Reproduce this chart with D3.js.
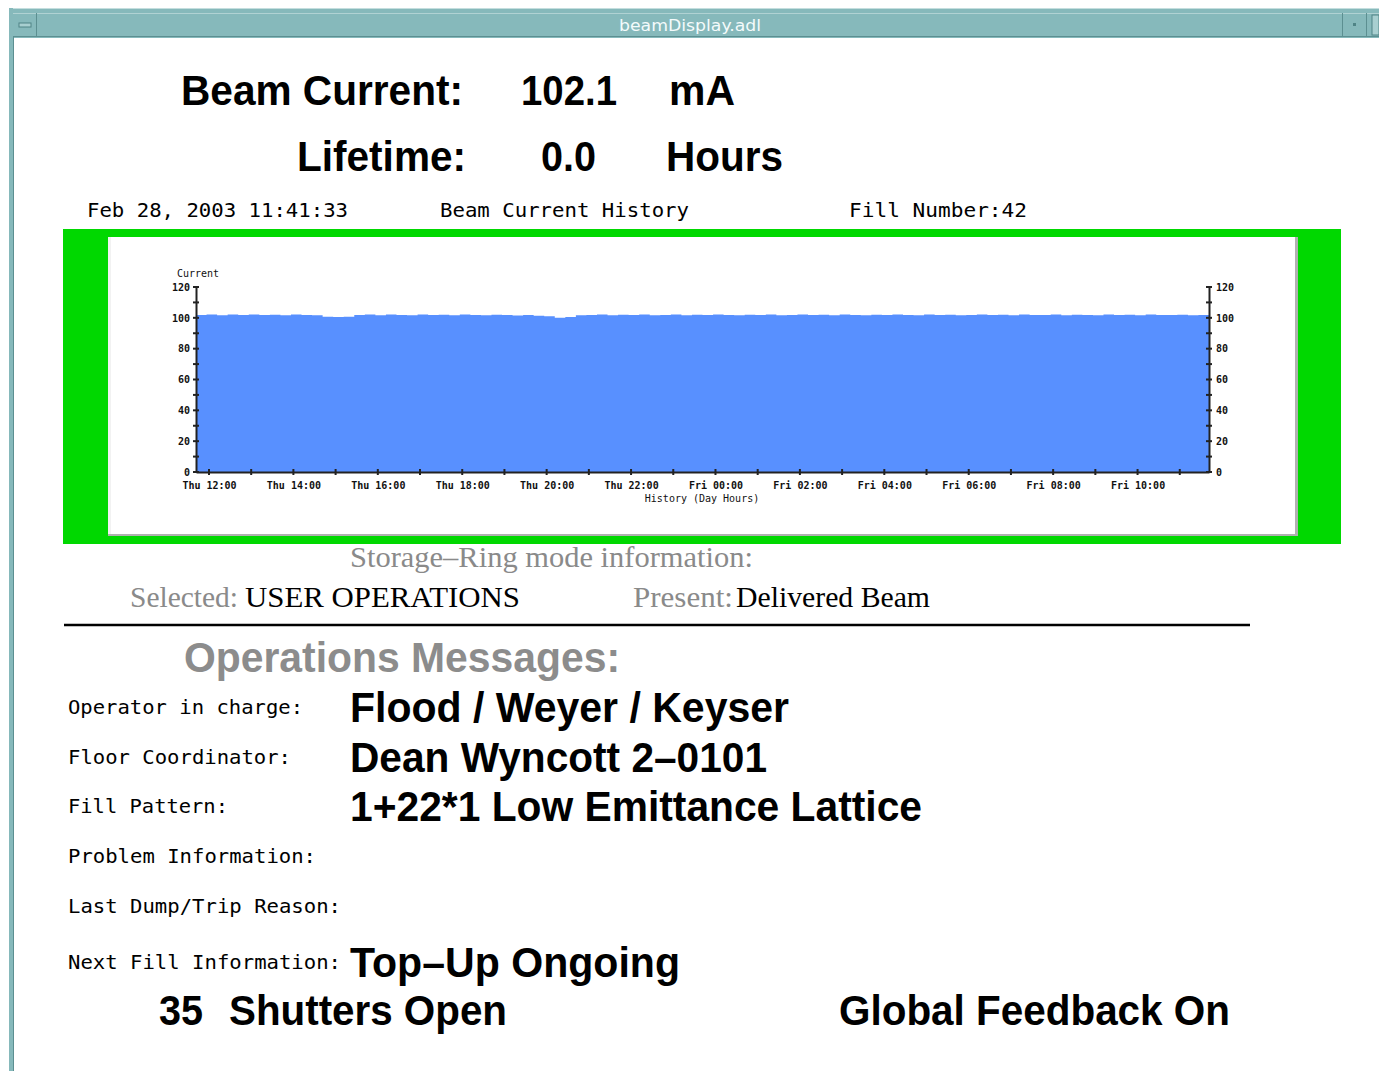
<!DOCTYPE html>
<html>
<head>
<meta charset="utf-8">
<script src="https://cdn.jsdelivr.net/npm/d3@7"></script>
<style>
  html, body { margin: 0; padding: 0; background: #ffffff; }
  svg { display: block; }
  text { white-space: pre; }
</style>
</head>
<body>
<div id="chart"></div>
<script>
// ---------------- DATA ----------------
const windowTitle = "beamDisplay.adl";
const beamCurrent = "102.1";
const beamUnit = "mA";
const lifetime = "0.0";
const lifetimeUnit = "Hours";
const timestampText = "Feb 28, 2003 11:41:33";
const chartTitle = "Beam Current History";
const fillNumberText = "Fill Number:42";

// history window: 24 h ending at the timestamp, one sample every 15 min
const historyStart = new Date(2003, 1, 27, 11, 41, 33);
const historyEnd = new Date(2003, 1, 28, 11, 41, 33);
const sampleMinutes = 15;
const currentValues = [
  101.9, 102.2, 101.7, 102.1, 101.8, 102.2, 101.9, 102.0, 101.7, 102.1, 101.8, 101.6,
  100.7, 100.6, 100.7,
  101.8, 102.1, 101.7, 102.2, 101.9, 101.6, 102.1, 101.8, 102.0, 101.7, 102.2, 101.9,
  101.7, 102.0, 101.8, 101.5, 101.9, 101.4,
  101.0, 100.1, 100.5,
  101.6, 101.9, 102.1, 101.7, 102.0, 101.8, 102.2, 101.6, 101.9, 102.1, 101.7, 102.0,
  101.8, 102.2, 101.9, 101.6, 102.0, 101.8, 102.1, 101.7, 101.9, 102.2, 101.8, 102.0,
  101.7, 102.1, 101.9, 101.6, 102.0, 101.8, 102.2, 101.9, 101.7, 102.1, 101.8, 102.0,
  101.6, 101.9, 102.2, 101.8, 102.0, 101.7, 102.1, 101.9, 101.8, 102.2, 101.7, 102.0,
  101.9, 101.6, 102.1, 101.8, 102.0, 101.7, 102.2, 101.9, 101.8, 102.0, 101.7, 101.9,
  102.1
];
const yTickValues = [0, 20, 40, 60, 80, 100, 120];
const yMinorTickValues = [10, 30, 50, 70, 90, 110];
const yAxisTitle = "Current";
const xAxisTitle = "History (Day Hours)";

const modeHeader = "Storage\u2013Ring mode information:";
const selectedLabel = "Selected:";
const selectedValue = "USER OPERATIONS";
const presentLabel = "Present:";
const presentValue = "Delivered Beam";

const messagesHeader = "Operations Messages:";
const messageLabels = ["Operator in charge:", "Floor Coordinator:", "Fill Pattern:",
  "Problem Information:", "Last Dump/Trip Reason:", "Next Fill Information:"];
const messageValues = ["Flood / Weyer / Keyser", "Dean Wyncott 2\u20130101",
  "1+22*1 Low Emittance Lattice", "", "", "Top\u2013Up Ongoing"];
const shuttersCount = "35";
const shuttersText = "Shutters Open";
const feedbackText = "Global Feedback On";

// ---------------- DRAW ----------------
const W = 1379, H = 1071;
const svg = d3.select("#chart").append("svg").attr("width", W).attr("height", H);

function txt(g, s, x, y, o) {
  const t = g.append("text").attr("x", x).attr("y", y).text(s)
    .attr("font-family", o.family).attr("font-size", o.size)
    .attr("fill", o.fill || "#000");
  if (o.weight) t.attr("font-weight", o.weight);
  if (o.anchor) t.attr("text-anchor", o.anchor);
  if (o.len) t.attr("textLength", o.len).attr("lengthAdjust", "spacingAndGlyphs");
  return t;
}

// window chrome
const teal = "#86b9bb";
svg.append("rect").attr("x", 9).attr("y", 8).attr("width", W - 9).attr("height", 30).attr("fill", teal);
svg.append("line").attr("x1", 9).attr("x2", W).attr("y1", 8.5).attr("y2", 8.5).attr("stroke", "#c4dede");
svg.append("line").attr("x1", 9).attr("x2", W).attr("y1", 13.5).attr("y2", 13.5).attr("stroke", "#b0d2d3");
svg.append("line").attr("x1", 9).attr("x2", W).attr("y1", 36.5).attr("y2", 36.5).attr("stroke", "#5c8f91");
svg.append("rect").attr("x", 9).attr("y", 8).attr("width", 4).attr("height", H - 8).attr("fill", teal);
svg.append("line").attr("x1", 13.5).attr("x2", 13.5).attr("y1", 36).attr("y2", H).attr("stroke", "#5c8f91");
// left menu button
svg.append("line").attr("x1", 36.5).attr("x2", 36.5).attr("y1", 13).attr("y2", 37).attr("stroke", "#5c8f91");
svg.append("rect").attr("x", 19).attr("y", 23).attr("width", 12).attr("height", 4).attr("fill", "#a8cfd0").attr("stroke", "#4f8486").attr("stroke-width", 1);
// right buttons
svg.append("line").attr("x1", 1342.5).attr("x2", 1342.5).attr("y1", 13).attr("y2", 37).attr("stroke", "#5c8f91");
svg.append("line").attr("x1", 1366.5).attr("x2", 1366.5).attr("y1", 13).attr("y2", 37).attr("stroke", "#5c8f91");
svg.append("rect").attr("x", 1353).attr("y", 23).attr("width", 3).attr("height", 3).attr("fill", "#4f8486");
svg.append("rect").attr("x", 1372).attr("y", 15).attr("width", 7).attr("height", 20).attr("fill", "#a8cfd0").attr("stroke", "#4f8486");
txt(svg, windowTitle, 690, 31, {family: "DejaVu Sans", size: 16, fill: "#f4fbfb", anchor: "middle", len: 142});

// headline values
const big = {family: "Liberation Sans, Arial, sans-serif", size: 42, weight: "bold"};
txt(svg, "Beam Current:", 181, 105, {...big, len: 282});
txt(svg, beamCurrent, 521, 105, {...big, len: 96});
txt(svg, beamUnit, 669, 105, {...big, len: 66});
txt(svg, "Lifetime:", 297, 171, {...big, len: 169});
txt(svg, lifetime, 541, 171, {...big, len: 55});
txt(svg, lifetimeUnit, 666, 171, {...big, len: 117});

const mono = {family: "DejaVu Sans Mono, Liberation Mono, monospace", size: 20};
txt(svg, timestampText, 87, 217, {...mono, len: 261});
txt(svg, chartTitle, 440, 217, {...mono, len: 249});
txt(svg, fillNumberText, 849, 217, {...mono, len: 178});

// chart frame
svg.append("rect").attr("x", 63).attr("y", 229).attr("width", 1278).attr("height", 315).attr("fill", "#00d800");
svg.append("rect").attr("x", 108).attr("y", 237).attr("width", 1190).attr("height", 299).attr("fill", "#b0b0b0");
svg.append("rect").attr("x", 108).attr("y", 237).attr("width", 1187).attr("height", 297).attr("fill", "#ffffff");
svg.append("rect").attr("x", 108).attr("y", 237).attr("width", 3).attr("height", 297).attr("fill", "#f2f2f2");

const x = d3.scaleTime().domain([historyStart, historyEnd]).range([196, 1209]);
const y = d3.scaleLinear().domain([0, 120]).range([472, 287]);

const series = currentValues.map((v, i) => ({t: new Date(+historyStart + i * sampleMinutes * 60000), v}));
series.push({t: historyEnd, v: currentValues[currentValues.length - 1]});

const area = d3.area().x(d => x(d.t)).y0(y(0)).y1(d => y(d.v)).curve(d3.curveStepAfter);
svg.append("path").datum(series).attr("d", area).attr("fill", "#5890ff");

const axisColor = "#222";
const small = {family: "DejaVu Sans Mono, monospace", size: 10, weight: "bold"};

// left axis
const yl = svg.append("g").attr("transform", "translate(196,0)");
yl.call(d3.axisLeft(y).tickValues(yTickValues).tickSize(0).tickPadding(6));
yl.select(".domain").attr("stroke", axisColor).attr("stroke-width", 2);
yl.selectAll(".tick text").attr("font-family", small.family).attr("font-size", 10).attr("font-weight", "bold").attr("fill", "#111");
yl.selectAll("line.tk").data(yTickValues.concat(yMinorTickValues)).join("line").attr("class", "tk")
  .attr("x1", -3).attr("x2", 3).attr("y1", d => y(d)).attr("y2", d => y(d)).attr("stroke", axisColor).attr("stroke-width", 2);

// right axis
const yr = svg.append("g").attr("transform", "translate(1209,0)");
yr.call(d3.axisRight(y).tickValues(yTickValues).tickSize(0).tickPadding(7));
yr.select(".domain").attr("stroke", axisColor).attr("stroke-width", 2);
yr.selectAll(".tick text").attr("font-family", small.family).attr("font-size", 10).attr("font-weight", "bold").attr("fill", "#111");
yr.selectAll("line.tk").data(yTickValues.concat(yMinorTickValues)).join("line").attr("class", "tk")
  .attr("x1", -3).attr("x2", 3).attr("y1", d => y(d)).attr("y2", d => y(d)).attr("stroke", axisColor).attr("stroke-width", 2);

// bottom axis
const fmt = d3.timeFormat("%a %H:%M");
const xa = svg.append("g").attr("transform", "translate(0,472)");
const hours = x.ticks(d3.timeHour.every(1));
xa.call(d3.axisBottom(x).tickValues(hours).tickSize(0).tickPadding(10)
  .tickFormat(d => d.getHours() % 2 === 0 ? fmt(d) : ""));
xa.select(".domain").attr("stroke", axisColor).attr("stroke-width", 2);
xa.selectAll(".tick text").attr("font-family", small.family).attr("font-size", 10).attr("font-weight", "bold").attr("fill", "#111");
xa.selectAll("line.tk").data(hours).join("line").attr("class", "tk")
  .attr("x1", d => x(d)).attr("x2", d => x(d)).attr("y1", -3).attr("y2", 3).attr("stroke", axisColor).attr("stroke-width", 2);

txt(svg, yAxisTitle, 177, 277, {...small, size: 10, weight: "normal", fill: "#111"});
txt(svg, xAxisTitle, 702, 502, {...small, size: 10, weight: "normal", anchor: "middle", fill: "#111"});

// storage ring mode
const serif = {family: "Liberation Serif, Times New Roman, serif", size: 30};
txt(svg, modeHeader, 350, 567, {...serif, fill: "#8a8a8a", len: 403});
txt(svg, selectedLabel, 130, 607, {...serif, fill: "#8a8a8a", len: 108});
txt(svg, selectedValue, 245, 607, {...serif, fill: "#000", len: 275});
txt(svg, presentLabel, 633, 607, {...serif, fill: "#8a8a8a", len: 100});
txt(svg, presentValue, 736, 607, {...serif, fill: "#000", len: 194});
svg.append("line").attr("x1", 64).attr("x2", 1250).attr("y1", 625).attr("y2", 625).attr("stroke", "#000").attr("stroke-width", 2.5);

// operations messages
txt(svg, messagesHeader, 184, 672, {...big, size: 43, fill: "#8c8c8c", len: 436});
const labelY = [714, 764, 813, 863, 913, 969];
const labelLen = [235, 223, 160, 248, 273, 273];
const valueY = [722, 772, 821, 871, 921, 977];
const valueLen = [439, 417, 572, 0, 0, 330];
messageLabels.forEach((s, i) => txt(svg, s, 68, labelY[i], {...mono, len: labelLen[i]}));
messageValues.forEach((s, i) => { if (s) txt(svg, s, 350, valueY[i], {...big, len: valueLen[i]}); });

txt(svg, shuttersCount, 159, 1025, {...big, len: 44});
txt(svg, shuttersText, 229, 1025, {...big, len: 278});
txt(svg, feedbackText, 839, 1025, {...big, len: 391});
</script>
</body>
</html>
